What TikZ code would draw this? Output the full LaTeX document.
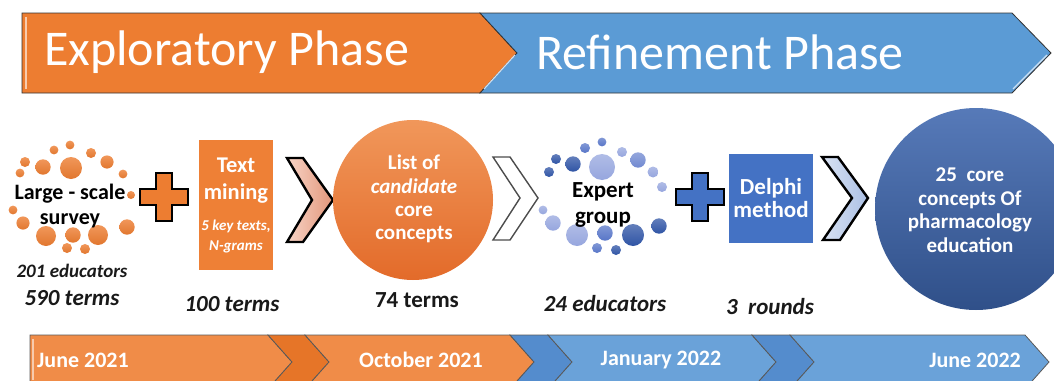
\documentclass[tikz,border=0pt]{standalone}
\usepackage{fontspec}
\setmainfont{Carlito}
\usetikzlibrary{positioning}

\definecolor{phaseorange}{RGB}{237,125,49}
\definecolor{phaseblue}{RGB}{91,155,213}
\definecolor{dateorange}{RGB}{240,140,72}
\definecolor{dateorangedark}{RGB}{230,117,40}
\definecolor{dateblue}{RGB}{106,162,217}
\definecolor{datebluedark}{RGB}{84,140,205}
\definecolor{mineorange}{RGB}{238,128,54}
\definecolor{delphiblue}{RGB}{68,114,196}
\definecolor{dotdark}{RGB}{47,84,165}
\definecolor{dotmid}{RGB}{88,118,200}
\definecolor{dotlight}{RGB}{150,166,222}
\definecolor{peachlight}{RGB}{248,212,198}
\definecolor{peachdark}{RGB}{226,150,122}

\tikzset{
    phasetext/.style={text=white, inner sep=0pt,
        font=\fontsize{50}{56}\selectfont},
    datetext/.style={text=white, inner sep=0pt,
        font=\bfseries\fontsize{22}{26}\selectfont},
    bandline/.style={draw=black!65, line width=0.8pt},
    countlabel/.style={text=black!90, inner sep=0pt,
        font=\bfseries\itshape\fontsize{23}{27}\selectfont},
    clustertext/.style={text=black, inner sep=0pt, align=center,
        font=\bfseries\fontsize{22}{25}\selectfont},
    whitetext/.style={text=white, inner sep=0pt, align=center,
        font=\bfseries\fontsize{21}{23.5}\selectfont},
    stepsquare/.style={rectangle, draw=none, inner sep=0pt},
    stepcircle/.style={circle, draw=none, inner sep=0pt},
    plusline/.style={draw=black, line width=2.4pt, line join=miter},
    chevline/.style={draw=black, line width=2.4pt, line join=miter}
}

\begin{document}
\begin{tikzpicture}[x=1pt, y=-1pt]
    \useasboundingbox (0,0) rectangle (1054,380);
    \clip (0,0) rectangle (1054,380);

    % phase banner
    \draw[draw=black!80, line width=0.8pt, fill=phaseorange]
        (22,13) -- (480,13) -- (517,53) -- (480,93) -- (22,93) -- cycle;
    \draw[draw=black!80, line width=0.8pt, fill=phaseblue]
        (480,13) -- (1012,13) -- (1051,53) -- (1012,93) -- (480,93) -- (517,53) -- cycle;
    \draw[white!60!phaseorange, line width=1.2pt] (26,17) -- (26,89);
    \draw[white!70!phaseblue, line width=1.2pt] (484,89) -- (515,55);
    \draw[white!70!phaseblue, line width=1.2pt] (1013,89) -- (1047,55);
    \node[phasetext, anchor=west] (explore) at (44,52) {Exploratory Phase};
    \node[phasetext, anchor=west] (refine) at (536,52) {Refinement Phase};

    % time line
    \draw[bandline, fill=dateorange]
        (30,335) -- (268,335) -- (292,362) -- (268,389) -- (30,389) -- cycle;
    \draw[bandline, fill=dateorangedark]
        (268,335) -- (305,335) -- (329,362) -- (305,389) -- (268,389) -- (292,362) -- cycle;
    \draw[bandline, fill=dateorange]
        (305,335) -- (510,335) -- (534,362) -- (510,389) -- (305,389) -- (329,362) -- cycle;
    \draw[bandline, fill=datebluedark]
        (510,335) -- (548,335) -- (572,362) -- (548,389) -- (510,389) -- (534,362) -- cycle;
    \draw[bandline, fill=dateblue]
        (548,335) -- (752,335) -- (776,362) -- (752,389) -- (548,389) -- (572,362) -- cycle;
    \draw[bandline, fill=datebluedark]
        (752,335) -- (790,335) -- (814,362) -- (790,389) -- (752,389) -- (776,362) -- cycle;
    \draw[bandline, fill=dateblue]
        (790,335) -- (1025,335) -- (1049,362) -- (1025,389) -- (790,389) -- (814,362) -- cycle;
    \draw[white!55!dateorange, line width=1.2pt] (33,339) -- (33,380);
    \node[datetext, anchor=west] (start) at (37,360) {June 2021};
    \node[datetext] (october) at (421,360) {October 2021};
    \node[datetext] (january) at (661,360) {January 2022};
    \node[datetext, anchor=east] (finish) at (1021,360) {June 2022};

    % survey cluster
    \foreach \x/\y/\r in {70/145/4.4, 54/150/4.4, 91/153/5, 25/162/5, 43/167/7.7,
            71/168/11, 107/162/6.6, 20/173/4.4, 123/174/4.4, 131/195/4, 13/210/4.4,
            23/223/6.6, 46/236/10, 73/235/7.7, 98/235/10, 127/227/7.7, 67/248/5, 85/249/5}
        \shade[top color=phaseorange!80!white, bottom color=phaseorange!95!black]
            (\x,\y) circle (\r);
    \node[clustertext] (survey) at (70,206) {Large - scale\\survey};
    \node[countlabel, font=\bfseries\itshape\fontsize{19}{22}\selectfont]
        (surveyN) at (72,271) {201 educators};
    \node[countlabel] (surveyT) at (72,298) {590 terms};

    % text mining
    \node[stepsquare, fill=mineorange, minimum width=74, minimum height=130]
        (mining) at (236,205) {};
    \node[whitetext, font=\bfseries\fontsize{22.5}{27}\selectfont]
        (miningtitle) at (236,181) {Text\\mining};
    \node[whitetext, font=\bfseries\itshape\fontsize{15}{20}\selectfont]
        (miningnote) at (236,236) {5 key texts,\\N-grams};
    \node[countlabel] (miningT) at (232,304) {100 terms};

    % pluses
    \foreach \cx/\col in {164/phaseorange, 700/delphiblue}
        \draw[plusline, fill=\col, shift={(\cx,197)}]
            (-8,-24) -- (8,-24) -- (8,-8) -- (24,-8) -- (24,8) -- (8,8) -- (8,24)
            -- (-8,24) -- (-8,8) -- (-24,8) -- (-24,-8) -- (-8,-8) -- cycle;

    % chevrons
    \draw[chevline, left color=peachlight, right color=peachdark]
        (287,158) -- (303,158) -- (333,200) -- (303,242) -- (287,242) -- (312,200) -- cycle;
    \draw[draw=black!70, line width=1.4pt, fill=white]
        (493,157) -- (510,157) -- (538,198) -- (510,240) -- (493,240) -- (520,198) -- cycle;
    \draw[chevline, left color=white!80!delphiblue, right color=white!55!delphiblue]
        (822,157) -- (838,157) -- (868,198) -- (840,240) -- (823,240) -- (852,198) -- cycle;

    % candidate list
    \node[stepcircle, minimum size=160, top color=phaseorange!80!white,
        bottom color=phaseorange!90!red!95!black]
        (candidate) at (413,200) {};
    \node[whitetext, font=\bfseries\fontsize{21}{23.4}\selectfont]
        (candidatetext) at (414,199) {List of\\\textit{candidate}\\core\\concepts};
    \node[countlabel, font=\bfseries\fontsize{23}{27}\selectfont]
        (candidateT) at (417,300) {74 terms};

    % expert cluster
    \foreach \x/\y/\r/\c in {602/142/4.4/dotmid, 585/148/5/dotmid, 622/152/5/dotlight,
            556/159/5/dotdark, 573/164/7.7/dotdark, 602/167/13/dotlight,
            638/160/7.7/dotmid!60!dotlight, 549/172/5/dotdark, 653/172/5.5/dotlight,
            662/187/5/dotlight, 543/210/4.4/dotlight, 553/223/7.7/dotlight,
            577/235/11/dotlight, 605/233/7.7/dotmid, 633/235/11/dotdark,
            659/226/7.7/dotdark, 597/248/5/dotmid, 616/250/5/dotdark}
        \shade[top color=\c!75!white, bottom color=\c] (\x,\y) circle (\r);
    \node[clustertext, font=\bfseries\fontsize{23}{26}\selectfont]
        (expert) at (603,205) {Expert\\group};
    \node[countlabel] (expertN) at (605,304) {24 educators};

    % delphi
    \node[stepsquare, fill=delphiblue, minimum width=84, minimum height=89]
        (delphi) at (771,198) {};
    \node[whitetext, font=\bfseries\fontsize{23}{23.5}\selectfont]
        (delphitext) at (771,198) {Delphi\\method};
    \node[countlabel] (delphiR) at (770,307) {3\ \ rounds};

    % core concepts
    \node[stepcircle, minimum size=202, top color=delphiblue!85!white!90!black,
        bottom color=delphiblue!70!black]
        (core) at (976,209) {};
    \node[whitetext, font=\bfseries\fontsize{21}{23.5}\selectfont]
        (coretext) at (970,210) {25\ \ core\\concepts Of\\pharmacology\\education};
\end{tikzpicture}
\end{document}
